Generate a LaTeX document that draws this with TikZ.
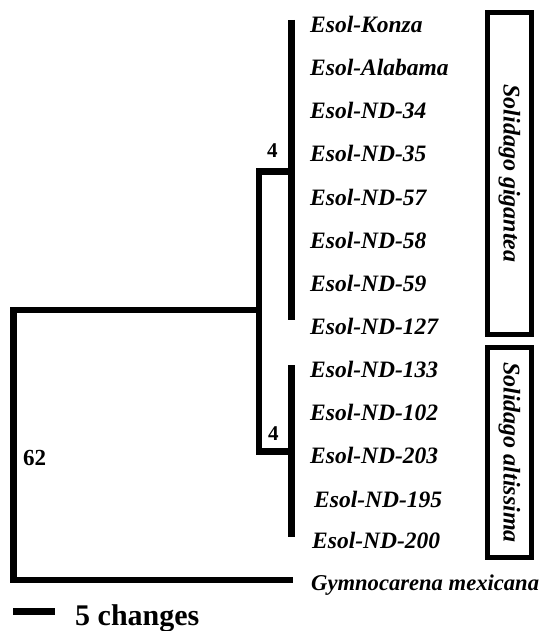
\documentclass[tikz,border=0pt]{standalone}
\usepackage{fontspec}
\setmainfont{Liberation Serif}
\usetikzlibrary{positioning}
\tikzstyle{taxon} = [anchor=base west, inner sep=0pt, font=\fontsize{23.5}{23.5}\selectfont\bfseries\itshape]
\tikzstyle{support} = [anchor=base west, inner sep=0pt, font=\fontsize{21}{21}\selectfont\bfseries]
\tikzstyle{branch} = [line width=6.5pt]
\tikzstyle{cladebox} = [draw=black, line width=5pt, rotate=-90, inner sep=0pt, minimum height=44pt, font=\fontsize{24}{24}\selectfont\bfseries\itshape]

\begin{document}
\begin{tikzpicture}[x=1pt, y=-1pt]
    \useasboundingbox (0,0) rectangle (545,631);
    % internal nodes of the tree
    \coordinate (root) at (13.5,310);
    \coordinate (ingroup) at (259,310);
    \coordinate (gigNode) at (291.5,171.5);
    \coordinate (altNode) at (291.5,451.5);
    \coordinate (gigTop) at (291.5,20);
    \coordinate (gigBot) at (291.5,320);
    \coordinate (altTop) at (291.5,365);
    \coordinate (altBot) at (291.5,537);
    \coordinate (outTip) at (293,580);

    % Solidago gigantea clade
    \node (konza) [taxon] at (310,33) {Esol-Konza};
    \node (alabama) [taxon] at (310,76) {Esol-Alabama};
    \node (nd34) [taxon] at (310,119) {Esol-ND-34};
    \node (nd35) [taxon] at (310,162) {Esol-ND-35};
    \node (nd57) [taxon] at (310,205) {Esol-ND-57};
    \node (nd58) [taxon] at (310,248) {Esol-ND-58};
    \node (nd59) [taxon] at (310,291) {Esol-ND-59};
    \node (nd127) [taxon] at (310,334) {Esol-ND-127};
    % Solidago altissima clade
    \node (nd133) [taxon] at (310,377) {Esol-ND-133};
    \node (nd102) [taxon] at (310,420) {Esol-ND-102};
    \node (nd203) [taxon] at (310,463) {Esol-ND-203};
    \node (nd195) [taxon] at (314,507) {Esol-ND-195};
    \node (nd200) [taxon] at (312,548) {Esol-ND-200};
    % outgroup
    \node (gymno) [taxon, font=\fontsize{22.6}{22.6}\selectfont\bfseries\itshape] at (311,590) {Gymnocarena mexicana};

    % clade boxes
    \node (gigBox) [cladebox, minimum width=322pt] at (509.5,173.5) {Solidago gigantea};
    \node (altBox) [cladebox, minimum width=210pt] at (509.5,452.5) {Solidago altissima};

    % branches
    \draw [branch] (gigTop) -- (gigBot);
    \draw [branch] (altTop) -- (altBot);
    \draw [branch] (gigNode) -| (ingroup) |- (altNode);
    \draw [branch] (ingroup) -- (root) |- (outTip);

    % support values
    \node (bsGig) [support] at (267,158) {4};
    \node (bsAlt) [support] at (268,440) {4};
    \node (bsRoot) [support, font=\fontsize{23}{23}\selectfont\bfseries] at (23,465) {62};

    % scale bar
    \coordinate (barL) at (13,611.5);
    \coordinate (barR) at (55,611.5);
    \draw [line width=7pt] (barL) -- (barR);
    \node (barText) [anchor=base west, inner sep=0pt, font=\fontsize{30}{30}\selectfont\bfseries] at (75,625) {5 changes};
\end{tikzpicture}
\end{document}
